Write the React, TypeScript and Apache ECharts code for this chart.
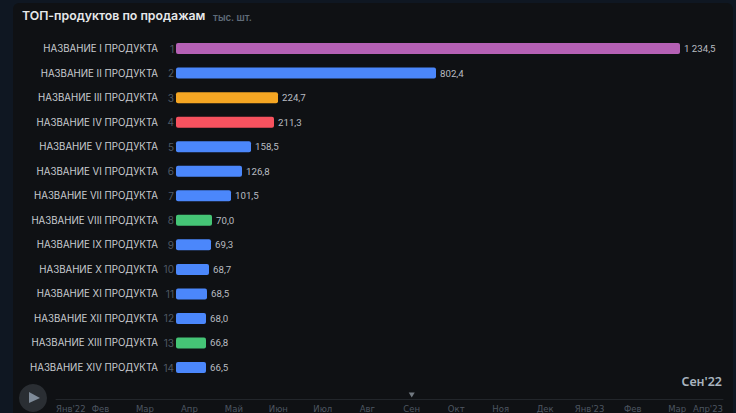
import React, { useEffect, useRef } from "react";
import * as echarts from "echarts";

const productNames = ["НАЗВАНИЕ I ПРОДУКТА","НАЗВАНИЕ II ПРОДУКТА","НАЗВАНИЕ III ПРОДУКТА","НАЗВАНИЕ IV ПРОДУКТА","НАЗВАНИЕ V ПРОДУКТА","НАЗВАНИЕ VI ПРОДУКТА","НАЗВАНИЕ VII ПРОДУКТА","НАЗВАНИЕ VIII ПРОДУКТА","НАЗВАНИЕ IX ПРОДУКТА","НАЗВАНИЕ X ПРОДУКТА","НАЗВАНИЕ XI ПРОДУКТА","НАЗВАНИЕ XII ПРОДУКТА","НАЗВАНИЕ XIII ПРОДУКТА","НАЗВАНИЕ XIV ПРОДУКТА"];
const ranks = ["1","2","3","4","5","6","7","8","9","10","11","12","13","14"];
// The printed figures and the drawn bar lengths disagree in the picture: both are kept as read.
const printedValues = ["1 234,5","802,4","224,7","211,3","158,5","126,8","101,5","70,0","69,3","68,7","68,5","68,0","66,8","66,5"];
const barLengths = [504,260,102,98,75,66,55,36,35,33,31,30,30,30];
const groups = ["purple","blue","orange","red","blue","blue","blue","green","blue","blue","blue","blue","green","blue"];
const months = ["Янв'22","Фев","Мар","Апр","Май","Июн","Июл","Авг","Сен","Окт","Ноя","Дек","Янв'23","Фев ","Мар ","Апр'23"];
const currentMonth = "Сен";
const currentLabel = "Сен'22";

const groupColors: Record<string,string> = { purple:"#b561b5", blue:"#4b87fb", orange:"#f5a623", red:"#f7525f", green:"#45c576" };
const SANS = "Inter, sans-serif";
const NUM = "Roboto, sans-serif";
const TL = "'DejaVu Sans', sans-serif";

export default function App() {
  const ref = useRef<HTMLDivElement>(null);
  useEffect(() => {
    const chart = echarts.init(ref.current!, undefined, { renderer: "svg" });
    chart.setOption({
      animation: false,
      backgroundColor: "#0f1722",
      textStyle: { fontFamily: SANS },
      title: {
        text: "ТОП-продуктов по продажам", left: 22, top: 9, padding: 0,
        textStyle: { color: "#e6e8ea", fontSize: 12.3, fontWeight: 600, fontFamily: SANS },
      },
      grid: [
        { left: 176, top: 36.3, width: 504, height: 343.5 },
        { left: 56, width: 667, top: 398, height: 1 },
      ],
      xAxis: [
        { type: "value", gridIndex: 0, min: 0, max: 504, show: false },
        { type: "category", gridIndex: 1, data: months, boundaryGap: false,
          axisLine: { lineStyle: { color: "#22262b" } }, axisTick: { show: false },
          axisLabel: { color: "#4d5661", fontSize: 8.5, fontFamily: TL, interval: 0, margin: 5, alignMinLabel: "left", alignMaxLabel: "right" } },
      ],
      yAxis: [
        { type: "category", gridIndex: 0, inverse: true, data: ranks,
          axisLine: { show: false }, axisTick: { show: false },
          axisLabel: { color: "#4f5964", fontSize: 10, margin: 2 } },
        { type: "category", gridIndex: 0, inverse: true, data: productNames, position: "left", offset: 18,
          axisLine: { show: false }, axisTick: { show: false },
          axisLabel: { color: "#c9ccd0", fontSize: 9.7, margin: 0 } },
        { type: "value", gridIndex: 1, show: false, min: 0, max: 1 },
      ],
      series: [
        { type: "bar", xAxisIndex: 0, yAxisIndex: 0, barWidth: 11,
          data: barLengths.map((v, i) => ({ value: v, itemStyle: { color: groupColors[groups[i]], borderRadius: 2 } })),
          label: { show: true, position: "right", distance: 4, color: "#b8bcc1", fontSize: 9.7, fontFamily: NUM, formatter: (p: any) => printedValues[p.dataIndex] } },
        { type: "scatter", xAxisIndex: 1, yAxisIndex: 2, symbol: "triangle", symbolRotate: 180, symbolSize: [6, 5], symbolOffset: [0, -4],
          itemStyle: { color: "#8b939c" }, data: [[currentMonth, 0]] },
      ],
      graphic: [
        { type: "rect", z: -10, shape: { x: 13, y: 3, width: 720, height: 420, r: 6 }, style: { fill: "#0f1114" } },
        { type: "text", z: 10, left: 213, top: 12, style: { text: "тыс. шт.", fill: "#5f6b78", font: `600 9.7px ${SANS}` } },
        { type: "text", z: 10, right: 14, top: 375, style: { text: currentLabel, fill: "#a9b4bf", font: `600 12.5px 'Noto Sans', sans-serif` } },
        { type: "circle", z: 10, shape: { cx: 33, cy: 398, r: 14 }, style: { fill: "#2a2e33" } },
        { type: "polygon", z: 11, shape: { points: [[29,392],[29,403],[40,398]] }, style: { fill: "#7f8b99" } },
      ],
    });
    return () => chart.dispose();
  }, []);
  return <div ref={ref} style={{ position: "fixed", left: 0, top: 0, width: 736, height: 413 }} />;
}
